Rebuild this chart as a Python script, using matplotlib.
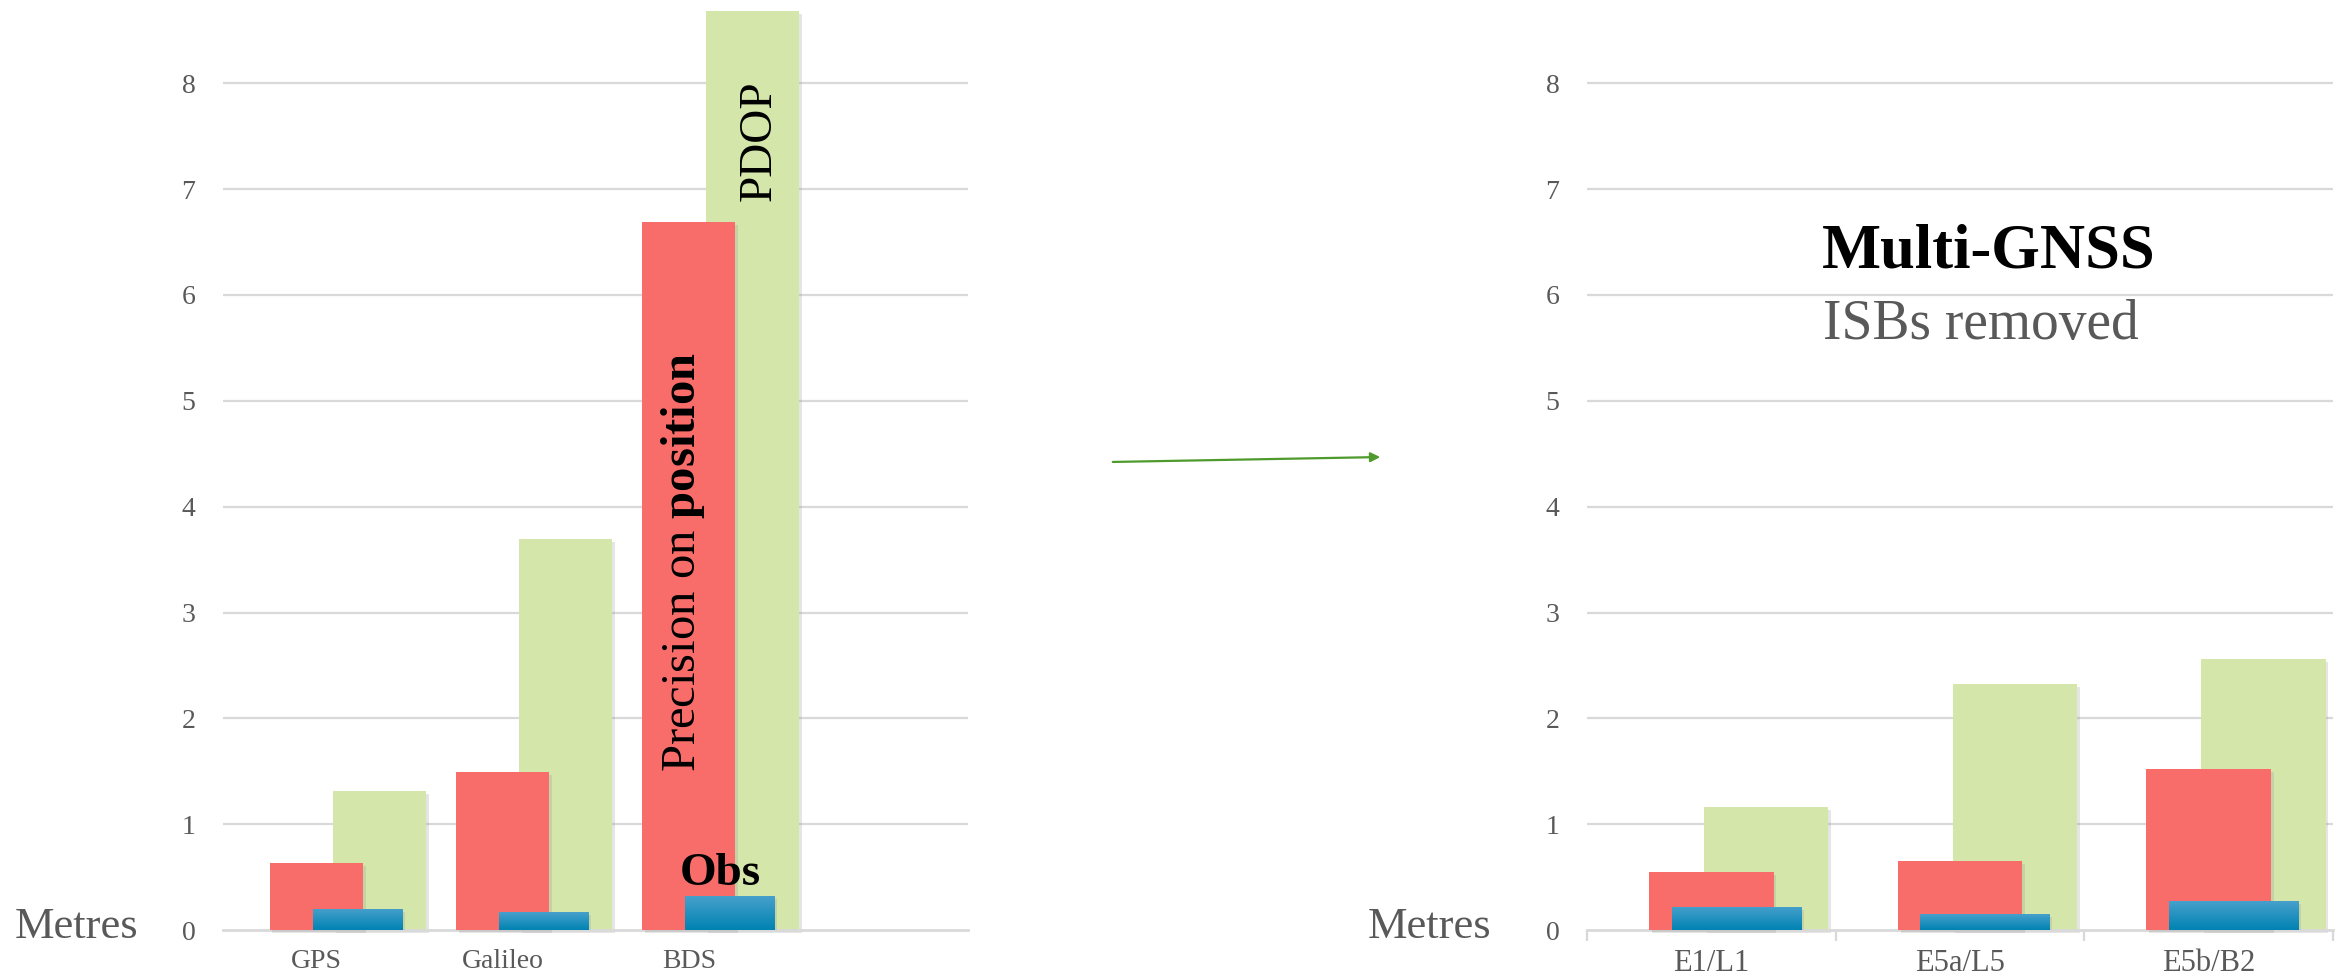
import numpy as np
import matplotlib
matplotlib.use("Agg")
import matplotlib.pyplot as plt
import matplotlib.patheffects as pe

plt.rcParams['font.family'] = ['Liberation Serif', 'DejaVu Serif']
plt.rcParams['mathtext.fontset'] = 'custom'
plt.rcParams['mathtext.rm'] = 'Liberation Serif'
plt.rcParams['mathtext.bf'] = 'Liberation Serif:bold'

# data (metres)
left_cats = ["GPS", "Galileo", "BDS"]
left_precision = [0.63, 1.49, 6.69]
left_pdop = [1.31, 3.69, 8.68]
left_obs = [0.20, 0.17, 0.32]

right_cats = ["E1/L1", "E5a/L5", "E5b/B2"]
right_precision = [0.55, 0.65, 1.52]
right_pdop = [1.16, 2.32, 2.56]
right_obs = [0.22, 0.15, 0.27]

yticks = [0, 1, 2, 3, 4, 5, 6, 7, 8]

RED = '#F86D6A'
GREEN = '#D4E6AA'
GREY_TXT = '#595959'
GRID = '#D9D9D9'

shadow = [pe.withSimplePatchShadow(offset=(2, -2), shadow_rgbFace='#999999', alpha=0.25)]


def blue_gradient(ax, bars):
    # light top, darker bottom, like the reference fill
    grad = np.linspace(0, 1, 64).reshape(-1, 1)
    cmap = matplotlib.colors.LinearSegmentedColormap.from_list('b', ['#0083B3', '#47A0CB'])
    for b in bars:
        x0, y0 = b.get_x(), b.get_y()
        w, h = b.get_width(), b.get_height()
        im = ax.imshow(grad, extent=[x0, x0 + w, y0, y0 + h], origin='lower',
                       aspect='auto', cmap=cmap, zorder=b.get_zorder() + 0.1)
        im.set_clip_path(b)


def draw_panel(ax, cats, prec, pdop, obs, ncat, g_off, b_off, b_w, fs_cat):
    x = np.arange(len(cats))
    ax.bar(x + g_off, pdop, width=0.5, color=GREEN, zorder=2, path_effects=shadow, clip_on=False)
    ax.bar(x, prec, width=0.5, color=RED, zorder=3, path_effects=shadow, clip_on=False)
    bb = ax.bar(x + b_off, obs, width=b_w, color='#1a8bb8', zorder=4, path_effects=shadow)
    blue_gradient(ax, bb)

    ax.set_xlim(-0.5, ncat - 0.5)
    ax.set_ylim(0, 8.75)
    ax.set_yticks(yticks)
    ax.set_xticks(x)
    ax.set_xticklabels(cats, fontsize=fs_cat, color=GREY_TXT)
    ax.tick_params(axis='y', length=0, pad=20, labelsize=20, labelcolor=GREY_TXT)
    ax.tick_params(axis='x', length=0, pad=14)
    for s in ['top', 'right', 'left']:
        ax.spines[s].set_visible(False)
    ax.spines['bottom'].set_color(GRID)
    ax.spines['bottom'].set_linewidth(2)
    for t in yticks[1:]:
        ax.axhline(t, color=GRID, lw=1.6, zorder=1)


fig = plt.figure(figsize=(23.36, 9.8), dpi=100)

ax1 = fig.add_axes([0.0955, 0.051, 0.319, 0.945])
draw_panel(ax1, left_cats, left_precision, left_pdop, left_obs, 4, 0.34, 0.22, 0.48, 20)

ax2 = fig.add_axes([0.6794, 0.051, 0.3193, 0.945])
draw_panel(ax2, right_cats, right_precision, right_pdop, right_obs, 3, 0.22, 0.1, 0.52, 22)
ax2.set_xticks([-0.5, 0.5, 1.5, 2.5], minor=True)
ax2.tick_params(axis='x', which='minor', length=8, width=1.6, color=GRID)

# labels inside the bars
ax1.text(2.38, 7.46, "PDOP", rotation=90, ha='center', va='center', fontsize=34, color='black', zorder=6)
ax1.text(1.97, 3.48, r"Precision on $\mathbf{position}$", rotation=90, ha='center', va='center',
         fontsize=35, color='black', zorder=6)
ax1.text(2.17, 0.33, "Obs", ha='center', va='bottom', fontsize=34, fontweight='bold', color='black', zorder=6)

fig.text(15 / 2336, 1 - 938 / 980, "Metres", fontsize=32, color=GREY_TXT, va='baseline', ha='left')
fig.text(1368 / 2336, 1 - 938 / 980, "Metres", fontsize=32, color=GREY_TXT, va='baseline', ha='left')

fig.text(1989 / 2336, 1 - 253 / 980, "Multi-GNSS", fontsize=45, fontweight='bold', ha='center', va='center')
fig.text(1981 / 2336, 1 - 325 / 980, "ISBs removed", fontsize=40, color=GREY_TXT, ha='center', va='center')

# arrow between the two panels
fig.add_artist(matplotlib.patches.FancyArrowPatch(
    (1110 / 2336, 1 - 462 / 980), (1383 / 2336, 1 - 457 / 980),
    transform=fig.transFigure, arrowstyle='-|>', mutation_scale=14,
    color='#4E9A2C', lw=1.6))

fig.savefig("out.png", dpi=100)
